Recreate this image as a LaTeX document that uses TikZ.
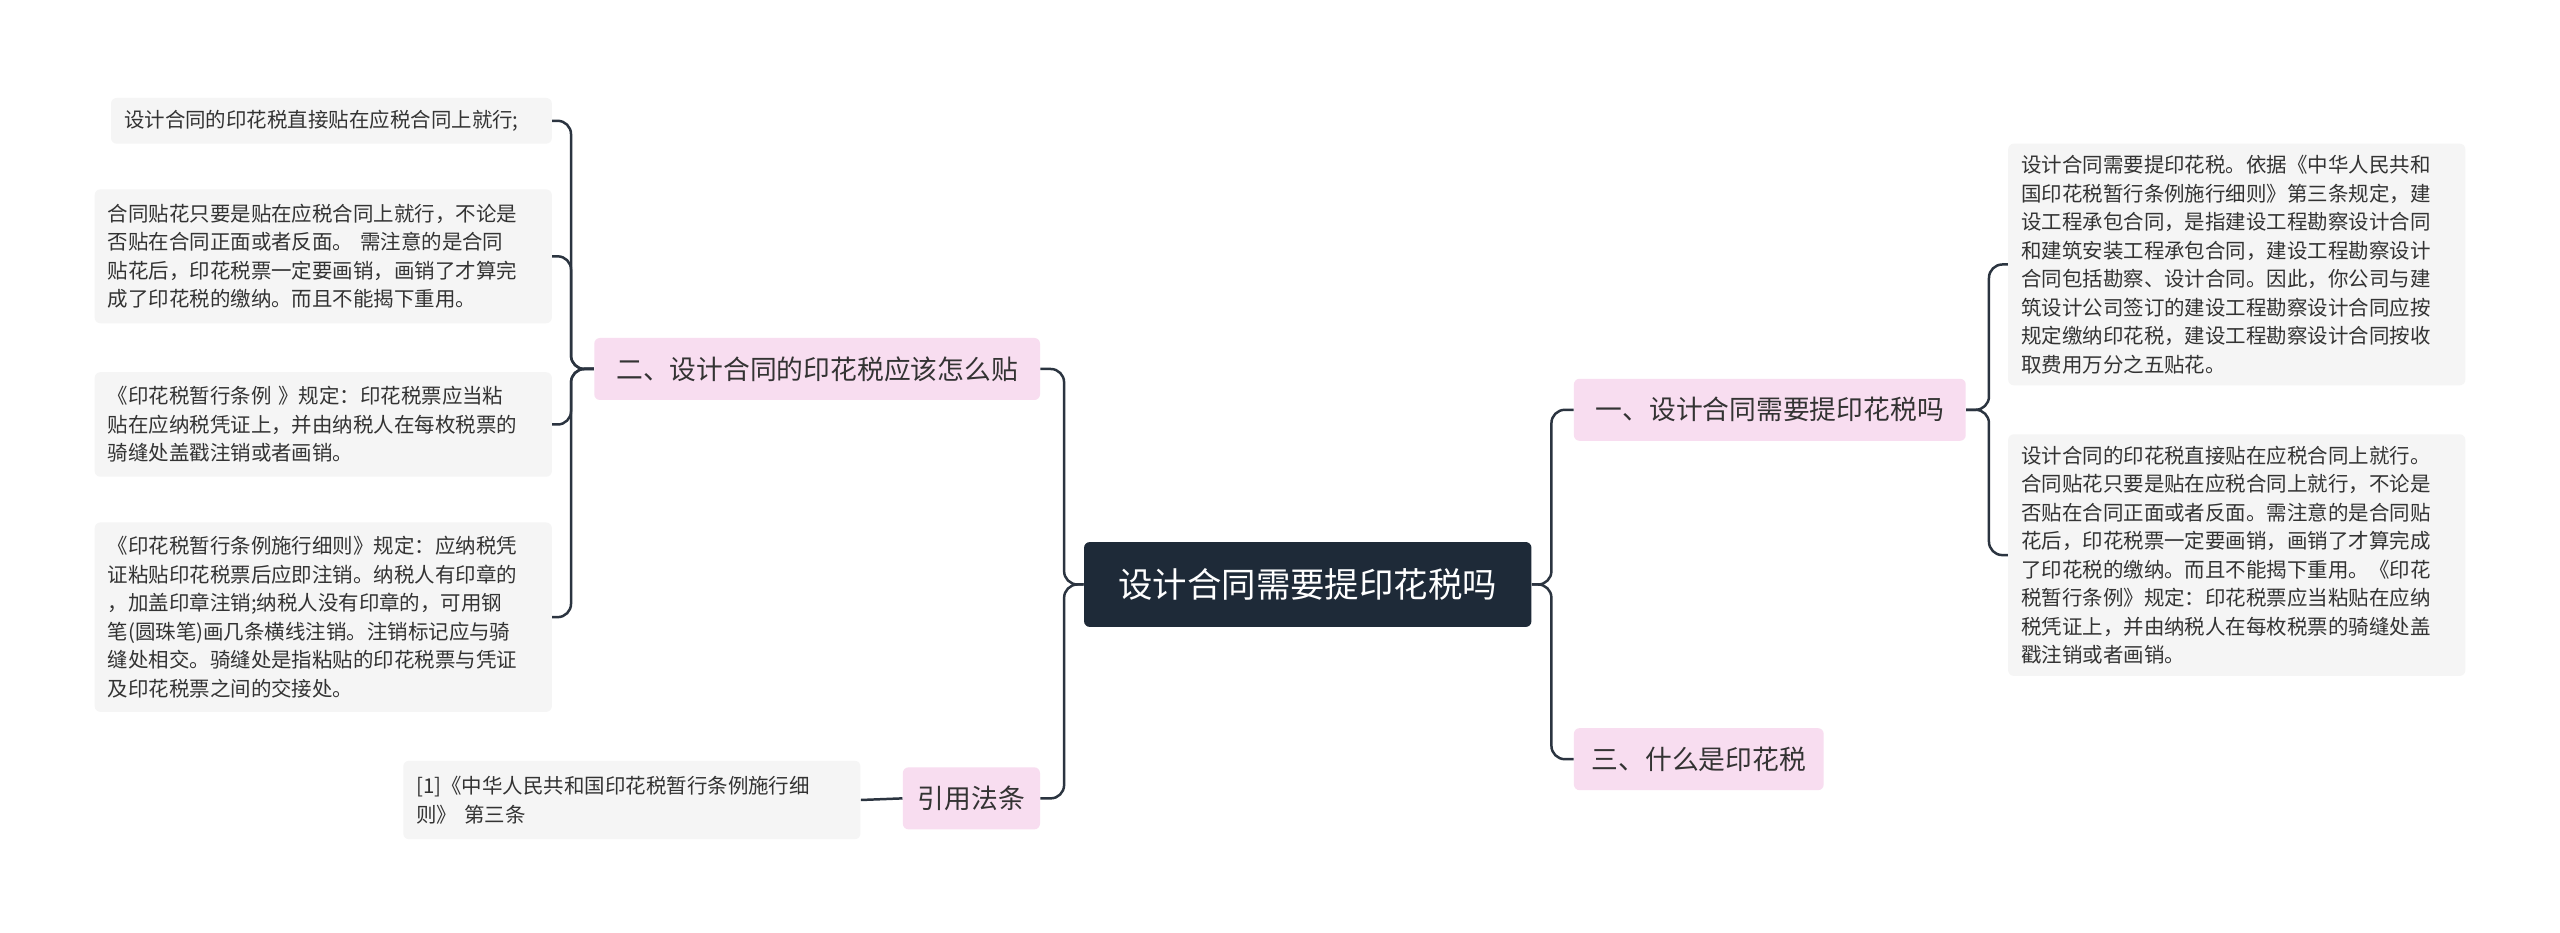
\documentclass[tikz,border=0pt]{standalone}
\usepackage{fontspec}
\setmainfont{Noto Sans CJK SC}
\begin{document}
\begin{tikzpicture}[x=0.03cm,y=-0.03cm,
 rootbox/.style={fill=rootc,text=white,rounded corners=3pt,minimum width=8.22cm,minimum height=1.56cm,font=\fontsize{18}{22}\selectfont,inner sep=0},
 br/.style={fill=pinkc,rounded corners=3pt,minimum height=1.14cm,font=\fontsize{14}{17}\selectfont,inner sep=0,text=textc},
 leaf/.style={fill=leafc,rounded corners=3pt,minimum width=8.4cm,text width=7.92cm,align=left,inner xsep=0.24cm,inner ysep=0,font=\fontsize{10.7}{14.9}\selectfont,text=textc},
 ln/.style={draw=linec,line width=1.3pt,rounded corners=7pt}]
\definecolor{rootc}{HTML}{1E2A38}
\definecolor{pinkc}{HTML}{F8DDF0}
\definecolor{leafc}{HTML}{F5F5F5}
\definecolor{linec}{HTML}{2B3440}
\definecolor{textc}{HTML}{333333}
\fill[white] (0,0) rectangle (1568,571);
\useasboundingbox (0,0) rectangle (1568,571);
\node[rootbox] (root) at (801,358) {设计合同需要提印花税吗};
\node[br,minimum width=7.2cm] (b1) at (1084,251) {一、设计合同需要提印花税吗};
\node[br,minimum width=4.59cm] (b3) at (1040.5,465) {三、什么是印花税};
\node[br,minimum width=8.19cm] (b2) at (500.5,226) {二、设计合同的印花税应该怎么贴};
\node[br,minimum width=2.52cm] (b4) at (595,489) {引用法条};
\node[leaf,minimum height=4.44cm] (r1) at (1370,162) {设计合同需要提印花税。依据《中华人民共和\\国印花税暂行条例施行细则》第三条规定，建\\设工程承包合同，是指建设工程勘察设计合同\\和建筑安装工程承包合同，建设工程勘察设计\\合同包括勘察、设计合同。因此，你公司与建\\筑设计公司签订的建设工程勘察设计合同应按\\规定缴纳印花税，建设工程勘察设计合同按收\\取费用万分之五贴花。};
\node[leaf,minimum height=4.44cm] (r2) at (1370,340) {设计合同的印花税直接贴在应税合同上就行。\\合同贴花只要是贴在应税合同上就行，不论是\\否贴在合同正面或者反面。需注意的是合同贴\\花后，印花税票一定要画销，画销了才算完成\\了印花税的缴纳。而且不能揭下重用。《印花\\税暂行条例》规定：印花税票应当粘贴在应纳\\税凭证上，并由纳税人在每枚税票的骑缝处盖\\戳注销或者画销。};
\node[leaf,minimum width=8.1cm,text width=7.62cm,minimum height=0.84cm] (l1) at (203,74) {设计合同的印花税直接贴在应税合同上就行;};
\node[leaf,minimum height=2.46cm] (l2) at (198,157) {合同贴花只要是贴在应税合同上就行，不论是\\否贴在合同正面或者反面。 需注意的是合同\\贴花后，印花税票一定要画销，画销了才算完\\成了印花税的缴纳。而且不能揭下重用。};
\node[leaf,minimum height=1.92cm] (l3) at (198,260) {《印花税暂行条例 》规定：印花税票应当粘\\贴在应纳税凭证上，并由纳税人在每枚税票的\\骑缝处盖戳注销或者画销。};
\node[leaf,minimum height=3.48cm] (l4) at (198,378) {《印花税暂行条例施行细则》规定：应纳税凭\\证粘贴印花税票后应即注销。纳税人有印章的\\，加盖印章注销;纳税人没有印章的，可用钢\\笔(圆珠笔)画几条横线注销。注销标记应与骑\\缝处相交。骑缝处是指粘贴的印花税票与凭证\\及印花税票之间的交接处。};
\node[leaf,minimum height=1.44cm] (c1) at (387,490) {[1]《中华人民共和国印花税暂行条例施行细\\则》 第三条};
\draw[ln] (root.east) -- ++(12,0) |- (b1.west);
\draw[ln] (root.east) -- ++(12,0) |- (b3.west);
\draw[ln] (root.west) -- ++(-12,0) |- (b2.east);
\draw[ln] (root.west) -- ++(-12,0) |- (b4.east);
\draw[ln] (b1.east) -- ++(14,0) |- (r1.west);
\draw[ln] (b1.east) -- ++(14,0) |- (r2.west);
\foreach \l in {l1,l2,l3,l4} \draw[ln] (b2.west) -- ++(-14,0) |- (\l.east);
\draw[ln] (b4.west) -- (c1.east);
\end{tikzpicture}
\end{document}
